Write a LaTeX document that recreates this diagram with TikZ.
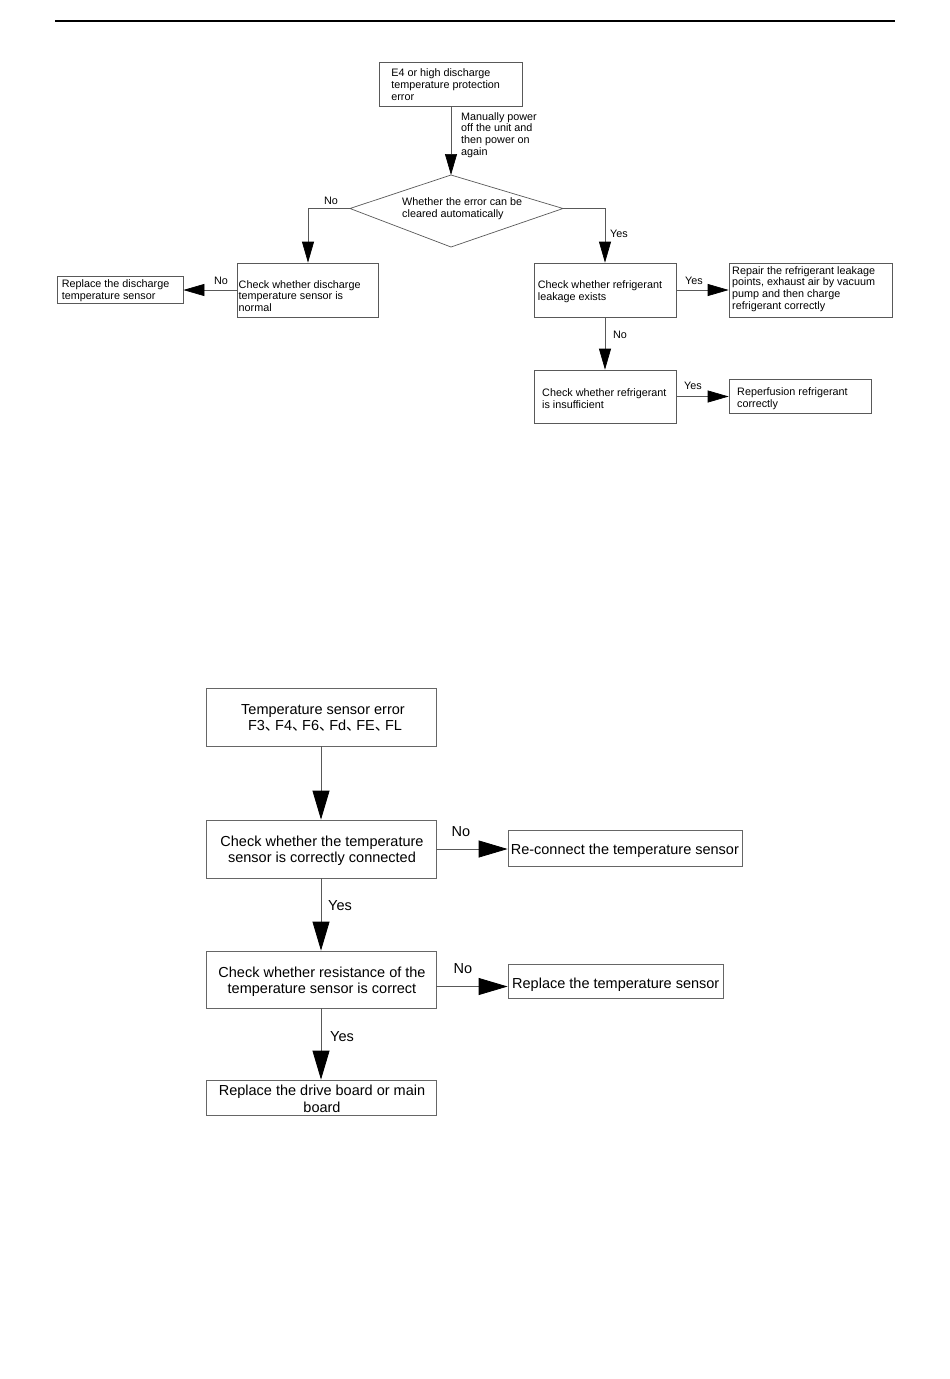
\documentclass[tikz,border=0pt]{standalone}
\usepackage{fontspec}
\setmainfont{Liberation Sans}
\newfontfamily\cjk{Noto Sans CJK SC}
\newcommand{\ideocomma}{\makebox[0.7em][l]{\cjk 、}}
\usetikzlibrary{arrows.meta,shapes.geometric}
\begin{document}
\begin{tikzpicture}[x=1pt,y=-1pt,
 box/.style={draw=black!65, line width=0.7pt, rectangle, inner sep=0pt},
 txt/.style={font=\fontsize{10.8}{11.8}\selectfont, align=left, inner sep=0pt, anchor=west},
 lbl/.style={font=\fontsize{10.8}{11.8}\selectfont, inner sep=0pt},
 arr/.style={draw=black!65, line width=0.7pt, -{Triangle[length=21pt,width=12pt,color=black]}},
 bbox/.style={draw=black!60, line width=0.8pt, rectangle, inner sep=0pt, minimum width=230pt},
 bctxt/.style={font=\fontsize{14.5}{16.5}\selectfont, inner sep=0pt, align=center},
 btxt/.style={font=\fontsize{14.5}{16.5}\selectfont, inner sep=0pt, anchor=west},
 blbl/.style={font=\fontsize{14.5}{16.5}\selectfont, inner sep=0pt},
 barr/.style={draw=black!65, line width=0.8pt, -{Triangle[length=29pt,width=17pt,color=black]}},
]
\useasboundingbox (0,0) rectangle (950,1379);
\fill[white] (0,0) rectangle (950,1379);
% header line
\coordinate (hl) at (55,21);
\coordinate (hr) at (895,21);
\draw[line width=1.5pt] (hl) -- (hr);

% ---------- top flowchart ----------
\node[box, minimum width=143pt, minimum height=44pt] (e4) at (451,84) {};
\node[txt] (e4t) at ([xshift=12pt,yshift=-0.5pt]e4.west) {E4 or high discharge\\temperature protection\\error};

% decision (slightly irregular diamond as in the reference)
\coordinate (dt) at (451,175);
\coordinate (dr) at (563,208.5);
\coordinate (db) at (451,247);
\coordinate (dl) at (350,208.5);
\draw[draw=black!65, line width=0.7pt] (dt) -- (dr) -- (db) -- (dl) -- cycle;
\node[txt] (diat) at (402,209) {Whether the error can be\\cleared automatically};

\node[box, minimum width=141pt, minimum height=54pt] (chk1) at (308,290) {};
\node[txt] (chk1t) at (238.5,296) {Check whether discharge\\temperature sensor is\\normal};

\node[box, minimum width=126pt, minimum height=27pt] (rep1) at (120,289.5) {};
\node[txt] (rep1t) at ([xshift=5pt,yshift=-1.5pt]rep1.west) {Replace the discharge\\temperature sensor};

\node[box, minimum width=142pt, minimum height=54pt] (leak) at (605,290) {};
\node[txt] (leakt) at ([xshift=4pt,yshift=-2pt]leak.west) {Check whether refrigerant\\leakage exists};

\node[box, minimum width=163pt, minimum height=54pt] (repair) at (810.5,290) {};
\node[txt] (repairt) at (732,289) {Repair the refrigerant leakage\\points, exhaust air by vacuum\\pump and then charge\\refrigerant correctly};

\node[box, minimum width=142pt, minimum height=53pt] (insuf) at (605,396.5) {};
\node[txt] (insuft) at (542,399) {Check whether refrigerant\\is insufficient};

\node[box, minimum width=142pt, minimum height=34pt] (reperf) at (800,396) {};
\node[txt] (reperft) at (737,399) {Reperfusion refrigerant\\correctly};

% connectors
\draw[arr] (e4.south) -- (dt);
\node[txt, anchor=north west] (manl) at (461,112) {Manually power\\off the unit and\\then power on\\again};
\draw[arr] (dl) -| (chk1.north);
\node[lbl] (no1) at (331,201) {No};
\draw[arr] (dr) -| (leak.north);
\node[lbl] (yes1) at (619,234) {Yes};
\draw[arr] (chk1.west) -- (chk1.west -| rep1.east);
\node[lbl] (no2) at (221,281) {No};
\draw[arr] (leak.east) -- (repair.west);
\node[lbl] (yes2) at (694,281) {Yes};
\draw[arr] (leak.south) -- (insuf.north);
\node[lbl] (no3) at (620,335) {No};
\draw[arr] (insuf.east) -- (insuf.east -| reperf.west);
\node[lbl] (yes3) at (693,386) {Yes};

% ---------- bottom flowchart ----------
\node[bbox, minimum height=58pt] (t1) at (321,717) {};
\node[bctxt] (t1t) at (323,718) {Temperature sensor error\\ \ F3\ideocomma F4\ideocomma F6\ideocomma Fd\ideocomma FE\ideocomma FL};
\node[bbox, minimum height=58pt] (t2) at (321,849) {};
\node[bctxt] (t2t) at (322,850.5) {Check whether the temperature\\sensor is correctly connected};
\node[box, draw=black!60, line width=0.8pt, minimum width=234pt, minimum height=36pt] (rc) at (625,848) {};
\node[btxt] (rct) at ([xshift=3pt,yshift=-2.5pt]rc.west) {Re-connect the temperature sensor};
\node[bbox, minimum height=57pt] (t3) at (321,979.5) {};
\node[bctxt] (t3t) at (322,981.5) {Check whether resistance of the\\temperature sensor is correct};
\node[box, draw=black!60, line width=0.8pt, minimum width=215pt, minimum height=34pt] (rs) at (615.5,981) {};
\node[btxt] (rst) at (512,985) {Replace the temperature sensor};
\node[bbox, minimum height=35pt] (t4) at (321,1097.5) {};
\node[bctxt] (t4t) at (322,1099) {Replace the drive board or main\\board};

\draw[barr] (t1.south) -- (t2.north);
\draw[barr] (t2.east) -- (t2.east -| rc.west);
\node[blbl] (bno1) at (461,832) {No};
\draw[barr] (t2.south) -- (t3.north);
\node[blbl] (byes1) at (340,906) {Yes};
\draw[barr] ([yshift=-7pt]t3.east) -- ([yshift=-7pt]t3.east -| rs.west);
\node[blbl] (bno2) at (463,969) {No};
\draw[barr] (t3.south) -- (t4.north);
\node[blbl] (byes2) at (342,1037) {Yes};
\end{tikzpicture}
\end{document}
